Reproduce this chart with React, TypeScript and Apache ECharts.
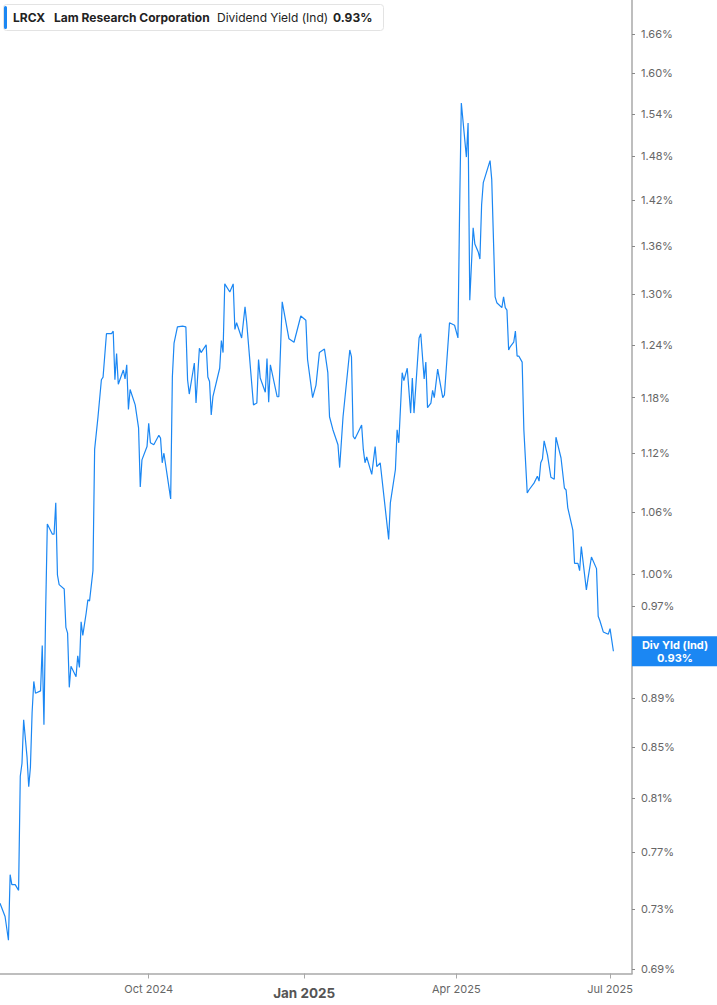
import { useEffect, useRef } from "react";
import * as echarts from "echarts";

// LRCX indicated dividend yield (%)
const DATES = [
  "2024-07-05", "2024-07-08", "2024-07-10", "2024-07-11", "2024-07-12", "2024-07-14", "2024-07-16", "2024-07-17",
  "2024-07-18", "2024-07-19", "2024-07-21", "2024-07-22", "2024-07-23", "2024-07-24", "2024-07-25", "2024-07-26",
  "2024-07-29", "2024-07-30", "2024-07-31", "2024-08-01", "2024-08-02", "2024-08-05", "2024-08-06", "2024-08-07",
  "2024-08-08", "2024-08-09", "2024-08-12", "2024-08-13", "2024-08-14", "2024-08-15", "2024-08-16", "2024-08-19",
  "2024-08-20", "2024-08-21", "2024-08-22", "2024-08-23", "2024-08-25", "2024-08-26", "2024-08-27", "2024-08-29",
  "2024-08-30", "2024-09-01", "2024-09-03", "2024-09-04", "2024-09-06", "2024-09-09", "2024-09-10", "2024-09-11",
  "2024-09-12", "2024-09-13", "2024-09-16", "2024-09-17", "2024-09-18", "2024-09-19", "2024-09-20", "2024-09-23",
  "2024-09-25", "2024-09-26", "2024-09-27", "2024-09-30", "2024-10-01", "2024-10-02", "2024-10-04", "2024-10-07",
  "2024-10-08", "2024-10-09", "2024-10-10", "2024-10-14", "2024-10-15", "2024-10-16", "2024-10-18", "2024-10-21",
  "2024-10-23", "2024-10-24", "2024-10-25", "2024-10-28", "2024-10-29", "2024-10-31", "2024-11-01", "2024-11-04",
  "2024-11-05", "2024-11-06", "2024-11-07", "2024-11-08", "2024-11-12", "2024-11-13", "2024-11-14", "2024-11-15",
  "2024-11-18", "2024-11-20", "2024-11-21", "2024-11-22", "2024-11-25", "2024-11-27", "2024-11-28", "2024-12-02",
  "2024-12-04", "2024-12-05", "2024-12-06", "2024-12-09", "2024-12-10", "2024-12-11", "2024-12-12", "2024-12-16",
  "2024-12-17", "2024-12-19", "2024-12-23", "2024-12-26", "2024-12-30", "2025-01-02", "2025-01-03", "2025-01-06",
  "2025-01-08", "2025-01-10", "2025-01-13", "2025-01-15", "2025-01-16", "2025-01-18", "2025-01-21", "2025-01-22",
  "2025-01-24", "2025-01-28", "2025-01-29", "2025-01-30", "2025-01-31", "2025-02-04", "2025-02-05", "2025-02-06",
  "2025-02-07", "2025-02-10", "2025-02-12", "2025-02-13", "2025-02-15", "2025-02-20", "2025-02-21", "2025-02-24",
  "2025-02-25", "2025-02-26", "2025-02-28", "2025-03-01", "2025-03-03", "2025-03-05", "2025-03-06", "2025-03-07",
  "2025-03-09", "2025-03-10", "2025-03-11", "2025-03-13", "2025-03-14", "2025-03-15", "2025-03-17", "2025-03-18",
  "2025-03-19", "2025-03-21", "2025-03-24", "2025-03-25", "2025-03-28", "2025-03-31", "2025-04-02", "2025-04-03",
  "2025-04-04", "2025-04-07", "2025-04-08", "2025-04-09", "2025-04-11", "2025-04-12", "2025-04-14", "2025-04-15",
  "2025-04-16", "2025-04-17", "2025-04-21", "2025-04-22", "2025-04-24", "2025-04-25", "2025-04-28", "2025-04-29",
  "2025-04-30", "2025-05-01", "2025-05-02", "2025-05-03", "2025-05-05", "2025-05-06", "2025-05-07", "2025-05-08",
  "2025-05-10", "2025-05-11", "2025-05-13", "2025-05-14", "2025-05-17", "2025-05-19", "2025-05-20", "2025-05-21",
  "2025-05-22", "2025-05-23", "2025-05-25", "2025-05-27", "2025-05-29", "2025-05-30", "2025-06-02", "2025-06-04",
  "2025-06-05", "2025-06-06", "2025-06-09", "2025-06-10", "2025-06-12", "2025-06-13", "2025-06-14", "2025-06-17",
  "2025-06-18", "2025-06-20", "2025-06-23", "2025-06-24", "2025-06-25", "2025-06-27", "2025-06-30", "2025-07-01",
  "2025-07-03",
];
const YIELDS = [
  0.734, 0.725, 0.709, 0.754, 0.747, 0.747, 0.743, 0.827,
  0.837, 0.872, 0.842, 0.819, 0.834, 0.878, 0.904, 0.894,
  0.896, 0.935, 0.868, 0.964, 1.048, 1.038, 1.038, 1.069,
  0.999, 0.990, 0.986, 0.951, 0.946, 0.899, 0.917, 0.908,
  0.926, 0.916, 0.956, 0.944, 0.964, 0.976, 0.975, 1.003,
  1.124, 1.159, 1.2, 1.203, 1.253, 1.253, 1.256, 1.2,
  1.23, 1.195, 1.211, 1.201, 1.217, 1.167, 1.189, 1.172,
  1.147, 1.085, 1.113, 1.127, 1.152, 1.131, 1.129, 1.139,
  1.136, 1.11, 1.12, 1.073, 1.203, 1.242, 1.261, 1.262,
  1.261, 1.2, 1.184, 1.219, 1.174, 1.236, 1.231, 1.24,
  1.203, 1.198, 1.161, 1.181, 1.213, 1.245, 1.231, 1.313,
  1.303, 1.313, 1.258, 1.266, 1.248, 1.285, 1.266, 1.172,
  1.174, 1.223, 1.202, 1.186, 1.224, 1.175, 1.217, 1.181,
  1.181, 1.291, 1.247, 1.243, 1.274, 1.269, 1.223, 1.18,
  1.194, 1.231, 1.235, 1.208, 1.159, 1.145, 1.129, 1.105,
  1.159, 1.234, 1.226, 1.138, 1.135, 1.15, 1.124, 1.11,
  1.116, 1.098, 1.127, 1.106, 1.11, 1.033, 1.069, 1.103,
  1.145, 1.131, 1.208, 1.199, 1.213, 1.163, 1.202, 1.163,
  1.219, 1.248, 1.253, 1.201, 1.22, 1.169, 1.174, 1.188,
  1.18, 1.212, 1.18, 1.183, 1.266, 1.263, 1.248, 1.411,
  1.556, 1.479, 1.527, 1.293, 1.384, 1.363, 1.353, 1.344,
  1.414, 1.444, 1.474, 1.448, 1.297, 1.29, 1.284, 1.297,
  1.284, 1.281, 1.234, 1.238, 1.243, 1.256, 1.227, 1.227,
  1.22, 1.145, 1.079, 1.082, 1.089, 1.096, 1.091, 1.11,
  1.114, 1.133, 1.118, 1.095, 1.093, 1.137, 1.115, 1.084,
  1.082, 1.064, 1.042, 1.01, 1.01, 1.003, 1.026, 0.985,
  0.996, 1.016, 1.005, 0.961, 0.957, 0.947, 0.945, 0.95,
  0.93,
];
const Y_TICKS = [
  0.69, 0.73, 0.77, 0.81, 0.85, 0.89, 0.93, 0.97, 1.0, 1.06,
  1.12, 1.18, 1.24, 1.3, 1.36, 1.42, 1.48, 1.54, 1.6, 1.66,
];
const X_TICKS = ["2024-10-01", "2025-01-01", "2025-04-01", "2025-07-01"];
const X_RANGE = ["2024-07-05", "2025-07-14"];
const Y_RANGE = [0.6872, 1.714];
const MONTHS = ["Jan", "Feb", "Mar", "Apr", "May", "Jun", "Jul", "Aug", "Sep", "Oct", "Nov", "Dec"];

const BLUE = "#1b87f3";
const AXIS = "#a8a8a8";
const FONT = "Inter, 'Noto Sans', sans-serif";

const ts = (s: string) => {
  const [y, m, d] = s.split("-").map(Number);
  return new Date(y, m - 1, d).getTime();
};

export default function App() {
  const ref = useRef<HTMLDivElement>(null);

  useEffect(() => {
    if (!ref.current) return;
    const chart = echarts.init(ref.current, null, { renderer: "svg" });
    const last = YIELDS[YIELDS.length - 1];
    const lastText = last.toFixed(2) + "%";
    // the tick label under the last-value badge is covered in the original, leave it out
    const labelTicks = Y_TICKS.filter((t) => Math.abs(Math.log(t / last)) > 0.015);

    chart.setOption({
      animation: false,
      textStyle: { fontFamily: FONT },
      grid: { left: 0, right: 85, top: 0, bottom: 31.5 },
      // dates as plain timestamps on a value axis, so the tick dates can be given exactly
      xAxis: {
        type: "value",
        min: ts(X_RANGE[0]),
        max: ts(X_RANGE[1]),
        axisLine: { onZero: false, lineStyle: { color: AXIS, width: 1.5 } },
        axisTick: { show: true, customValues: X_TICKS.map(ts), length: 5, lineStyle: { color: AXIS } },
        axisLabel: {
          customValues: X_TICKS.map(ts),
          color: "#666",
          fontFamily: FONT,
          fontSize: 11,
          margin: 10,
          formatter: (v: number) => {
            const d = new Date(v);
            const label = MONTHS[d.getMonth()] + " " + d.getFullYear();
            return d.getMonth() === 0 ? `{b|${label}}` : label;
          },
          rich: {
            b: { fontFamily: FONT, fontWeight: "bold", fontSize: 13.5, color: "#555", padding: [2, 0, 0, 0] },
          },
        },
        splitLine: { show: false },
      },
      // log scale: the axis runs in ln(yield), labels show the yield
      yAxis: {
        type: "value",
        position: "right",
        min: Math.log(Y_RANGE[0]),
        max: Math.log(Y_RANGE[1]),
        axisLine: { show: true, onZero: false, lineStyle: { color: AXIS, width: 1.5 } },
        axisTick: { show: true, customValues: Y_TICKS.map(Math.log), length: 3, lineStyle: { color: "#888" } },
        axisLabel: {
          customValues: labelTicks.map(Math.log),
          formatter: (v: number) => Math.exp(v).toFixed(2) + "%",
          color: "#666",
          fontFamily: FONT,
          fontSize: 11,
          margin: 9,
        },
        splitLine: { show: false },
      },
      series: [{
        type: "line",
        symbol: "none",
        lineStyle: { color: BLUE, width: 1.2 },
        data: DATES.map((d, i) => [ts(d), Math.log(YIELDS[i])]),
      }],
    });

    // header legend + badge for the last value on the right axis
    const py = chart.convertToPixel({ yAxisIndex: 0 }, Math.log(last)) as number;
    chart.setOption({
      graphic: [
        { type: "rect", z: 50, shape: { x: 3.5, y: 4.5, width: 380, height: 26, r: 3 },
          style: { fill: "#fff", stroke: "#e3e3e3", lineWidth: 1 } },
        { type: "rect", z: 51, shape: { x: 4, y: 6, width: 3, height: 23, r: 1.5 }, style: { fill: BLUE } },
        { type: "text", z: 51, x: 13, y: 17,
          style: { text: "LRCX", font: `bold 12px ${FONT}`, fill: "#222", verticalAlign: "middle" } },
        { type: "text", z: 51, x: 54, y: 17,
          style: { text: "Lam Research Corporation", font: `bold 12px ${FONT}`, fill: "#222", verticalAlign: "middle" } },
        { type: "text", z: 51, x: 217, y: 17,
          style: { text: "Dividend Yield (Ind)", font: `12px ${FONT}`, fill: "#222", verticalAlign: "middle" } },
        { type: "text", z: 51, x: 333, y: 17,
          style: { text: lastText, font: `bold 12px ${FONT}`, fill: "#222", verticalAlign: "middle" } },
        {
          type: "group", x: 632, y: py - 15, z: 100,
          children: [
            { type: "rect", z: 100, shape: { x: 0, y: 0, width: 85, height: 30 }, style: { fill: BLUE } },
            { type: "text", z: 101, x: 43, y: 9,
              style: { text: "Div Yld (Ind)", font: `bold 11px ${FONT}`, fill: "#fff", align: "center", verticalAlign: "middle" } },
            { type: "text", z: 101, x: 43, y: 21.5,
              style: { text: lastText, font: `bold 11px ${FONT}`, fill: "#fff", align: "center", verticalAlign: "middle" } },
          ],
        },
      ],
    });

    return () => chart.dispose();
  }, []);

  return <div ref={ref} style={{ position: "absolute", left: 0, top: 0, width: 717, height: 1005 }} />;
}
